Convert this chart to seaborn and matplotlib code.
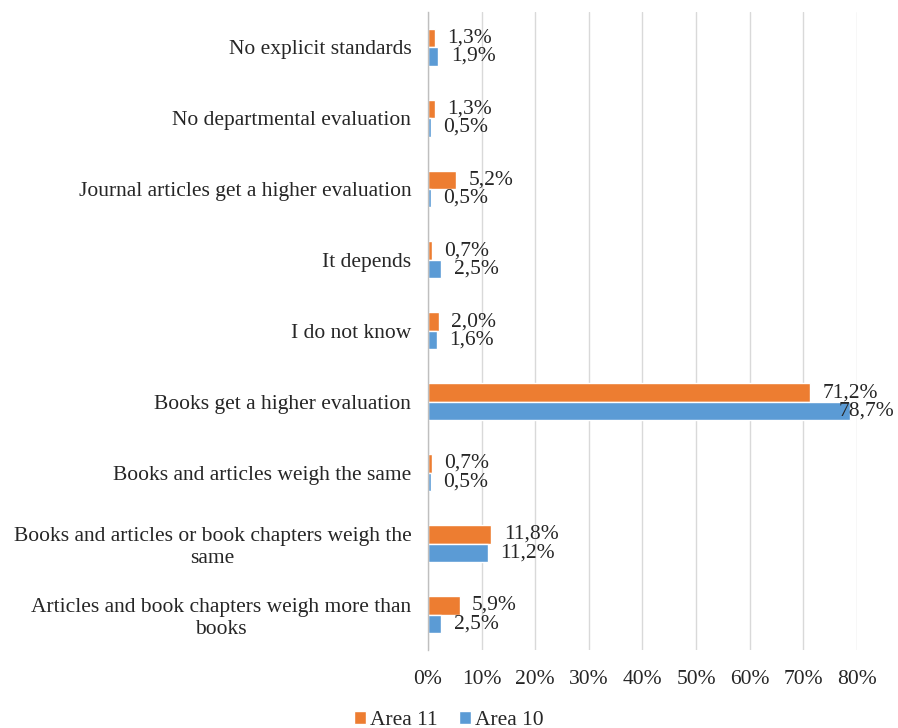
import matplotlib
matplotlib.use("Agg")
import matplotlib.pyplot as plt
import seaborn as sns
import pandas as pd

categories = [
    "No explicit standards",
    "No departmental evaluation",
    "Journal articles get a higher evaluation",
    "It depends",
    "I do not know",
    "Books get a higher evaluation",
    "Books and articles weigh the same",
    "Books and articles or book chapters weigh the\nsame",
    "Articles and book chapters weigh more than\nbooks",
]
area_11 = [1.3, 1.3, 5.2, 0.7, 2.0, 71.2, 0.7, 11.8, 5.9]
area_10 = [1.9, 0.5, 0.5, 2.5, 1.6, 78.7, 0.5, 11.2, 2.5]
series_names = ["Area 11", "Area 10"]
x_ticks = [0, 10, 20, 30, 40, 50, 60, 70, 80]

df = pd.DataFrame({
    "category": categories * 2,
    "value": area_11 + area_10,
    "series": [series_names[0]] * len(categories) + [series_names[1]] * len(categories),
})

sns.set_theme(style="white")
plt.rcParams["font.family"] = ["Liberation Serif", "DejaVu Serif"]
FS = 15.5

fig = plt.figure(figsize=(8.98, 7.28), dpi=100)
ax = fig.add_axes([0.4766, 0.107, 0.4777, 0.877])

palette = {"Area 11": "#ED7D31", "Area 10": "#5B9BD5"}
sns.barplot(data=df, y="category", x="value", hue="series", order=categories,
            hue_order=series_names, palette=palette, orient="h", width=0.52,
            saturation=1, ax=ax, legend=True)

ax.set_xlim(0, 80)
ax.set_xticks(x_ticks)
ax.set_xticklabels([f"{t}%" for t in x_ticks], fontsize=FS, color="#262626")
ax.set_xlabel("")
ax.set_ylabel("")
ax.tick_params(axis="y", labelsize=FS, length=0, pad=12, labelcolor="#262626")
ax.tick_params(axis="x", length=0, pad=14)
for lbl in ax.get_yticklabels():
    lbl.set_multialignment("center")

ax.xaxis.grid(True, color="#d9d9d9", linewidth=1)
ax.set_axisbelow(True)
for side in ["top", "right", "bottom"]:
    ax.spines[side].set_visible(False)
ax.spines["left"].set_color("#bfbfbf")
ax.spines["left"].set_linewidth(1)

for container in ax.containers:
    texts = ax.bar_label(container,
                         labels=[f"{v:.1f}%".replace(".", ",") for v in container.datavalues],
                         padding=9, fontsize=FS, color="#262626", clip_on=False)
    # pull a label back when its bar runs up to the right edge
    for t, v in zip(texts, container.datavalues):
        if v > 75:
            t.xyann = (-8, 0)

handles, labels = ax.get_legend_handles_labels()
ax.get_legend().remove()
fig.legend(handles, labels, loc="lower center", bbox_to_anchor=(0.5, -0.029), ncol=2,
           frameon=False, fontsize=FS, handlelength=0.55, handleheight=0.55,
           handletextpad=0.2, columnspacing=1.0)

fig.savefig("out.png", dpi=100)
